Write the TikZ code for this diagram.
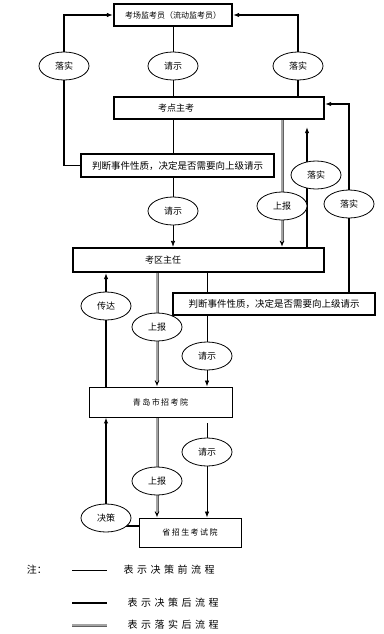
\documentclass[tikz,border=0pt]{standalone}
\usepackage{fontspec}
\setmainfont{Noto Sans CJK SC}
\newfontfamily\cjkspaced[LetterSpace=18]{Noto Sans CJK SC}
\newfontfamily\cjkwide[LetterSpace=35]{Noto Sans CJK SC}
\usepackage{tikz}
\usetikzlibrary{positioning,shapes.geometric,arrows.meta,backgrounds,calc}
\definecolor{ink}      {HTML}{000000}
\definecolor{relayedge}{HTML}{606060}
\definecolor{relaycore}{HTML}{A4A4A4}
\tikzset{
  every node/.style={font=\fontsize{9}{10}\selectfont},
  % --- nodes
  unit/.style  = {draw=ink, line width=2.2pt, inner sep=0pt, minimum height=22pt,
                  font=\fontsize{9.5}{10}\selectfont},
  plain/.style = {draw=ink, line width=0.9pt, inner sep=0pt, font=\fontsize{8}{9}\cjkspaced},
  oval/.style  = {ellipse, draw=ink, line width=0.8pt, fill=white, inner sep=0pt,
                  minimum width=50pt, minimum height=28pt},
  key/.style   = {anchor=west, font=\fontsize{10}{11}\cjkwide},
  % --- edges
  tip/.style      = {-{Latex[length=6pt,width=4.5pt]}},
  reltip/.style   = {-{Latex[length=6pt,width=5pt,color=ink]}},
  before/.style   = {draw=ink, line width=0.8pt},
  after/.style    = {draw=ink, line width=1.8pt},
  relaybar/.style = {draw=relayedge, line width=3pt,
                     postaction={draw=relaycore, line width=1.3pt}},
  relayline/.style= {draw=relayedge, line width=3pt,
                     postaction={draw=relaycore, line width=1.3pt, -, shorten >=5pt}},
}

\begin{document}
\begin{tikzpicture}[x=1pt,y=-1pt]
  \useasboundingbox (0,0) rectangle (383,634);

  % boxes
  \node[unit, minimum width=118pt, font=\fontsize{8}{9}\selectfont] (guard) at (173,15) {考场监考员（流动监考员）};
  \node[unit, minimum width=210pt, label={[xshift=-43pt]center:考点主考}] (site) at (219,108) {};
  \node[unit, minimum width=193pt, minimum height=23pt] (judgeA) at (177.5,165.5) {判断事件性质，决定是否需要向上级请示};
  \node[unit, minimum width=251pt, minimum height=24pt, label={[xshift=-35.5pt]center:考区主任}] (zone) at (198.5,260) {};
  \node[unit, minimum width=202pt] (judgeB) at (274,304) {判断事件性质，决定是否需要向上级请示};
  \node[plain, minimum width=143pt, minimum height=30pt] (city) at (160.5,402) {青岛市招考院};
  \node[plain, minimum width=102pt, minimum height=29pt] (prov) at (190,532.5) {省招生考试院};

  % ovals
  \node[oval] (okA)    at (64,66)   {落实};
  \node[oval] (askA)   at (173,66)  {请示};
  \node[oval] (okC)    at (298,66)  {落实};
  \node[oval] (askB)   at (173,211) {请示};
  \node[oval] (upA)    at (282,206) {上报};
  \node[oval] (okB)    at (316,175) {落实};
  \node[oval] (okD)    at (349,204) {落实};
  \node[oval] (pass)   at (106,306) {传达};
  \node[oval] (upB)    at (157,327) {上报};
  \node[oval] (askC)   at (207,356) {请示};
  \node[oval] (upC)    at (157,481) {上报};
  \node[oval] (askD)   at (207,452) {请示};
  \node[oval] (decide) at (106,518) {决策};
  \coordinate (liftB) at (307,175);

  \begin{scope}[on background layer]
    % top level
    \draw[after] (judgeA.west) -| (okA.center);
    \draw[after,tip] (okA.center) |- (guard.west);
    \draw[before] (guard.south) -- (guard.south |- site.north);
    \draw[after,tip] (site.north -| okC) |- (guard.east);
    % 考点主考 -> 考区主任
    \draw[before] (site.south -| askB) -- (askB |- judgeA.north);
    \draw[before,tip] (judgeA.south -| askB) -- (askB |- zone.north);
    \draw[relayline,reltip] (site.south -| upA) -- (upA |- zone.north);
    \draw[after,tip,shorten >=7pt] (zone.north -| liftB) -- (site.south -| liftB);
    \draw[after,tip] (judgeB.north -| okD) |- ([yshift=4pt]site.east);
    % 考区主任 -> 青岛市招考院
    \draw[after,tip] (pass |- city.north) -- (pass |- zone.south);
    \draw[relayline,reltip] (zone.south -| upB) -- (upB |- city.north);
    \draw[before] (zone.south -| askC) -- (askC |- judgeB.north);
    \draw[before,tip] (judgeB.south -| askC) -- (askC |- city.north);
    % 青岛市招考院 -> 省招生考试院
    \draw[relayline,reltip] (city.south -| upC) -- (upC |- prov.north);
    \draw[before,tip,shorten <=6pt] (city.south -| askD) -- (askD |- prov.north);
    \draw[after,tip] (decide.center) -- (decide |- city.south);
    \path ([yshift=6.5pt]prov.west) coordinate (tie);
    \draw[after] (tie) -- (tie -| decide);
  \end{scope}

  % legend
  \node[font=\fontsize{10}{11}\selectfont] (note) at (37,570) {注：};
  \draw[before]   (72,570) -- (107,570);
  \draw[after]    (72,603) -- (107,603);
  \draw[relaybar] (72,625) -- (107,625);
  \node[key] (keyA) at (120,570) {表示决策前流程};
  \node[key] (keyB) at (124,603) {表示决策后流程};
  \node[key] (keyC) at (124,625) {表示落实后流程};
\end{tikzpicture}
\end{document}
